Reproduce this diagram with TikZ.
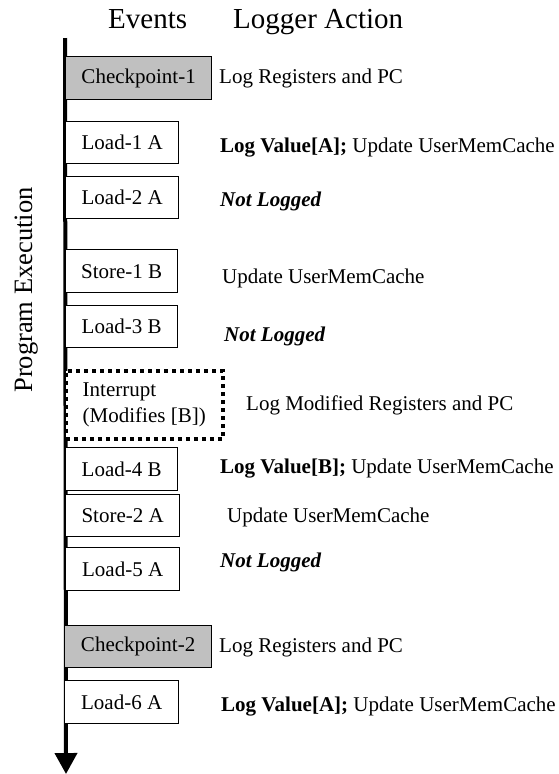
\documentclass[tikz,border=0pt]{standalone}
\usepackage{fontspec}
\setmainfont{Liberation Serif}
\usetikzlibrary{arrows.meta}
\definecolor{ckgray}{HTML}{C0C0C0}
\tikzset{
  evbox/.style={draw, line width=1.3pt, fill=white, inner sep=0pt, anchor=north west,
    font=\fontsize{21}{26}\selectfont},
  ckbox/.style={evbox, fill=ckgray},
  intbox/.style={draw, line width=3.5pt, dash pattern=on 4pt off 4pt, fill=white, inner sep=0pt,
    anchor=north west, font=\fontsize{21}{26}\selectfont, align=left},
  act/.style={anchor=base west, inner sep=0pt, font=\fontsize{21}{26}\selectfont},
  hdr/.style={anchor=base west, inner sep=0pt, font=\fontsize{29}{34}\selectfont},
}
\begin{document}
\begin{tikzpicture}[x=1pt, y=-1pt]
\useasboundingbox (0,0) rectangle (559,774);
% axis
\coordinate (top) at (65,38);
\coordinate (bot) at (66,774);
\draw[line width=4pt, -{Triangle[width=22pt,length=21pt]}] (top) -- (bot);
% headers
\node[hdr] (hev) at (108,28) {Events};
\node[hdr] (hla) at (233,28) {Logger Action};
\node[rotate=90, anchor=base, inner sep=0pt, font=\fontsize{26.5}{30}\selectfont] (pe) at (32,290) {Program Execution};
% event boxes
\node[ckbox, minimum width=146pt, minimum height=43pt] (ck1) at (65,56) {Checkpoint-1};
\node[evbox, minimum width=113pt, minimum height=42pt] (l1) at (65,121) {Load-1 A};
\node[evbox, minimum width=113pt, minimum height=42pt] (l2) at (65,176) {Load-2 A};
\node[evbox, minimum width=112pt, minimum height=43pt] (s1) at (65,249) {Store-1 B};
\node[evbox, minimum width=112pt, minimum height=42pt] (l3) at (65,305) {Load-3 B};
\node[intbox, minimum width=157pt, minimum height=68pt] (int) at (64,369) {Interrupt\\(Modifies [B])};
\node[evbox, minimum width=112pt, minimum height=43pt] (l4) at (65,447) {Load-4 B};
\node[evbox, minimum width=114pt, minimum height=42pt] (s2) at (65,494) {Store-2 A};
\node[evbox, minimum width=114pt, minimum height=43pt] (l5) at (65,547) {Load-5 A};
\node[ckbox, minimum width=147pt, minimum height=42pt] (ck2) at (64,625) {Checkpoint-2};
\node[evbox, minimum width=114pt, minimum height=43pt] (l6) at (64,680) {Load-6 A};
% actions
\node[act] (a1) at (219,83) {Log Registers and PC};
\node[act] (a2) at (220,152) {\textbf{Log Value[A];} Update UserMemCache};
\node[act] (a3) at (220,206) {\textbf{\textit{Not Logged}}};
\node[act] (a4) at (222,283) {Update UserMemCache};
\node[act] (a5) at (224,341) {\textbf{\textit{Not Logged}}};
\node[act] (a6) at (246,410) {Log Modified Registers and PC};
\node[act] (a7) at (220,473) {\textbf{Log Value[B];} Update UserMemCache};
\node[act] (a8) at (227,522) {Update UserMemCache};
\node[act] (a9) at (220,567) {\textbf{\textit{Not Logged}}};
\node[act] (a10) at (219,652) {Log Registers and PC};
\node[act] (a11) at (221,711) {\textbf{Log Value[A];} Update UserMemCache};
\end{tikzpicture}
\end{document}
